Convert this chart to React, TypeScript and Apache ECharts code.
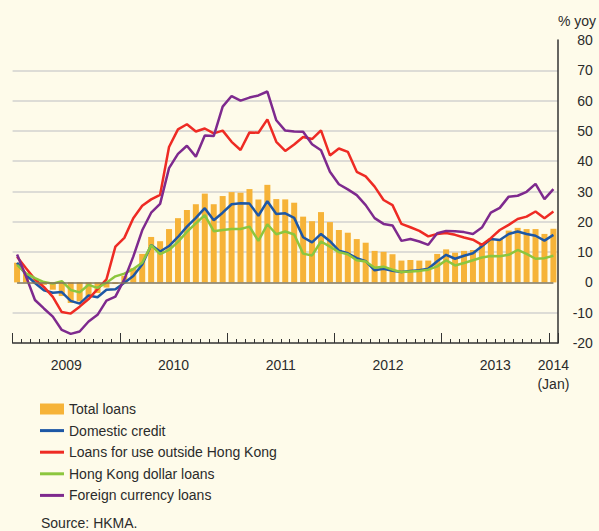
import React, { useEffect, useRef } from 'react';
import * as echarts from 'echarts';

// Monthly categories, Jan 2009 – Jan 2014
const years = ['2009', '2010', '2011', '2012', '2013'];
const monthNums = ['01', '02', '03', '04', '05', '06', '07', '08', '09', '10', '11', '12'];
const categories: string[] = [];
years.forEach((y) => monthNums.forEach((m) => categories.push(`${y}-${m}`)));
categories.push('2014-01');

const yearLabels = ['2009', '2010', '2011', '2012', '2013'];
const endLabel = ['2014', '(Jan)'];

const totalLoans = [
  6.5, 3.0, 1.0, -0.8, -2.4, -4.5, -6.8, -6.3, -4.8, -3.5, -1.7, -0.5,
  2.2, 4.7, 9.4, 15.0, 13.6, 17.6, 21.2, 23.9, 25.8, 29.3, 25.8, 28.5,
  29.8, 29.6, 30.8, 27.4, 32.2, 27.5, 27.4, 26.3, 21.7, 20.2, 23.2, 19.9,
  17.3, 16.4, 14.3, 13.1, 10.4, 10.1, 9.3, 7.2, 7.4, 7.2, 7.2, 9.4,
  10.9, 9.8, 10.4, 10.7, 12.4, 14.5, 14.3, 17.1, 18.0, 17.6, 17.6, 16.0,
  17.7,
];
const domesticCredit = [
  6.5, 2.5, -0.2, -2.6, -3.4, -3.2, -6.1, -7.0, -4.3, -4.9, -2.4, -2.3,
  -0.1, 2.1, 5.9, 12.3, 10.2, 12.0, 15.0, 18.4, 21.3, 24.5, 20.5, 23.0,
  25.8, 26.1, 26.0, 22.0, 26.8, 22.6, 22.8, 21.3, 14.9, 13.2, 16.0, 13.6,
  10.5, 9.6, 8.0, 7.0, 4.0, 4.5, 3.8, 3.4, 3.8, 4.0, 4.5, 7.0,
  9.1, 7.8, 8.8, 9.6, 11.9, 14.3, 14.0, 16.0, 16.8, 16.0, 15.4, 13.8,
  15.7,
];
const loansOutsideHK = [
  8.5, 4.7, 1.0, -1.5, -4.8, -9.8, -10.3, -8.0, -5.5, -2.2, 1.0, 11.8,
  14.7, 21.2, 25.3, 27.4, 28.9, 44.7, 50.5, 52.2, 49.8, 50.8, 49.2, 50.1,
  46.4, 43.7, 49.5, 49.4, 53.8, 46.4, 43.4, 45.5, 48.0, 47.3, 50.2, 41.9,
  44.2, 43.1, 36.5, 35.0, 31.6, 27.2, 25.5, 19.3, 18.2, 17.0, 15.2, 16.0,
  16.3, 15.7, 14.8, 14.1, 12.4, 14.6, 17.3, 19.0, 20.9, 21.7, 23.4, 21.2,
  23.4,
];
const hkdLoans = [
  5.8, 3.0, 1.4, 0.1, -0.4, 0.4, -2.5, -3.3, -0.8, -1.8, -0.1, 2.0,
  2.9, 4.4, 6.5, 12.3, 9.3, 10.7, 13.4, 16.7, 19.5, 22.2, 16.9, 17.3,
  17.6, 17.6, 18.4, 13.7, 19.2, 15.9, 16.8, 15.8, 9.5, 8.9, 13.5, 11.8,
  10.0, 9.3, 7.3, 6.9, 4.8, 5.2, 4.2, 3.4, 3.6, 3.8, 4.2, 5.3,
  7.3, 5.6, 6.4, 7.3, 8.2, 8.7, 8.6, 9.1, 10.7, 9.4, 7.8, 8.0,
  8.8,
];
const foreignCurrencyLoans = [
  9.2, 2.0, -5.8, -8.6, -11.3, -15.7, -17.0, -16.2, -12.9, -10.7, -6.0, -4.7,
  1.0, 8.5, 17.2, 23.0, 25.9, 37.7, 42.4, 45.1, 41.5, 48.5, 48.3, 58.0,
  61.5, 60.0, 61.0, 61.7, 63.0, 53.5, 50.1, 49.8, 49.7, 45.6, 43.6, 36.5,
  32.4, 30.7, 28.8, 25.5, 21.2, 19.3, 18.8, 13.7, 14.3, 13.5, 12.4, 16.2,
  17.0, 16.9, 16.6, 16.0, 18.1, 23.0, 24.6, 28.3, 28.6, 29.9, 32.5, 27.5,
  30.8,
];

const FONT = '"Liberation Sans", Arial, Helvetica, sans-serif';
const TEXT = '#2b2b2b';
const LINE_ICON = 'path://M0,0H24V3H0Z';

export default function App() {
  const ref = useRef<HTMLDivElement>(null);
  useEffect(() => {
    const chart = echarts.init(ref.current!, null, { renderer: 'svg' });
    const lineSeries = (name: string, data: number[], color: string) => ({
      name,
      type: 'line',
      data,
      symbol: 'none',
      lineStyle: { color, width: 2.5 },
      itemStyle: { color },
      z: 3,
    });
    chart.setOption({
      animation: false,
      backgroundColor: '#fefbea',
      textStyle: { fontFamily: FONT },
      title: {
        text: 'Source: HKMA.',
        left: 41,
        top: 516,
        padding: 0,
        textStyle: { fontFamily: FONT, fontSize: 14, fontWeight: 'normal', color: TEXT },
      },
      grid: { left: 12.6, top: 40, width: 550, height: 303, containLabel: false },
      legend: {
        orient: 'vertical',
        left: 40,
        top: 402,
        padding: 0,
        itemWidth: 24,
        itemHeight: 11,
        itemGap: 7.6,
        textStyle: { fontFamily: FONT, fontSize: 14, color: TEXT, padding: [0, 0, 0, 0] },
        data: [
          { name: 'Total loans', icon: 'rect' },
          { name: 'Domestic credit', icon: LINE_ICON },
          { name: 'Loans for use outside Hong Kong', icon: LINE_ICON },
          { name: 'Hong Kong dollar loans', icon: LINE_ICON },
          { name: 'Foreign currency loans', icon: LINE_ICON },
        ],
      },
      xAxis: [
        {
          type: 'category',
          data: categories,
          position: 'bottom',
          boundaryGap: true,
          axisLine: { onZero: false, lineStyle: { color: '#333', width: 1.5 } },
          axisTick: { show: true, interval: 0, inside: true, length: 4, lineStyle: { color: '#333', width: 1 } },
          splitLine: { show: false },
          axisLabel: {
            interval: (i: number) => i % 12 === 5 || i === categories.length - 1,
            margin: 12,
            formatter: (_v: string, i: number) => {
              if (i === categories.length - 1) return `{j|${endLabel[0]}}\n{j|${endLabel[1]}}`;
              return `{y|${yearLabels[Math.floor(i / 12)]}}`;
            },
            rich: {
              y: { fontFamily: FONT, fontSize: 14, color: TEXT, lineHeight: 19, padding: [0, 0, 0, 9] },
              j: { fontFamily: FONT, fontSize: 14, color: TEXT, lineHeight: 19 },
            },
          },
        },
        {
          type: 'category',
          data: categories,
          position: 'bottom',
          boundaryGap: true,
          axisLine: { show: false, onZero: false },
          axisTick: {
            show: true,
            interval: (i: number) => i % 12 === 0,
            inside: true,
            length: 10,
            lineStyle: { color: '#333', width: 1 },
          },
          axisLabel: { show: false },
          splitLine: { show: false },
        },
      ],
      yAxis: {
        type: 'value',
        position: 'right',
        min: -20,
        max: 80,
        interval: 10,
        name: '% yoy',
        nameLocation: 'end',
        nameGap: 12,
        nameTextStyle: { fontFamily: FONT, fontSize: 14, color: TEXT, align: 'left' },
        axisLine: { show: true, lineStyle: { color: '#333', width: 1.5 } },
        axisTick: { show: false },
        axisLabel: { fontFamily: FONT, fontSize: 14, color: TEXT, align: 'right', margin: 35 },
        splitLine: {
          show: true,
          lineStyle: {
            width: 2,
            color: [
              'rgba(0,0,0,0)', '#dddcd6', 'rgba(0,0,0,0)', '#dddcd6', '#dddcd6', '#dddcd6',
              '#dddcd6', '#dddcd6', '#dddcd6', '#dddcd6', 'rgba(0,0,0,0)',
            ],
          },
        },
      },
      series: [
        {
          name: 'Total loans',
          type: 'bar',
          data: totalLoans,
          barWidth: 6,
          itemStyle: { color: '#f6b338' },
          z: 2,
          markLine: {
            silent: true,
            symbol: 'none',
            label: { show: false },
            lineStyle: { color: '#7f765e', width: 1.5, type: 'solid' },
            data: [[
              { coord: [categories[0], 0] },
              { coord: [categories[categories.length - 1], 0] },
            ]],
          },
        },
        lineSeries('Domestic credit', domesticCredit, '#1d57a5'),
        lineSeries('Loans for use outside Hong Kong', loansOutsideHK, '#ee2b24'),
        lineSeries('Hong Kong dollar loans', hkdLoans, '#8cc63e'),
        lineSeries('Foreign currency loans', foreignCurrencyLoans, '#7e2a8e'),
      ],
    });
    return () => chart.dispose();
  }, []);
  return <div ref={ref} style={{ position: 'fixed', left: 0, top: 0, width: 599, height: 531 }} />;
}
